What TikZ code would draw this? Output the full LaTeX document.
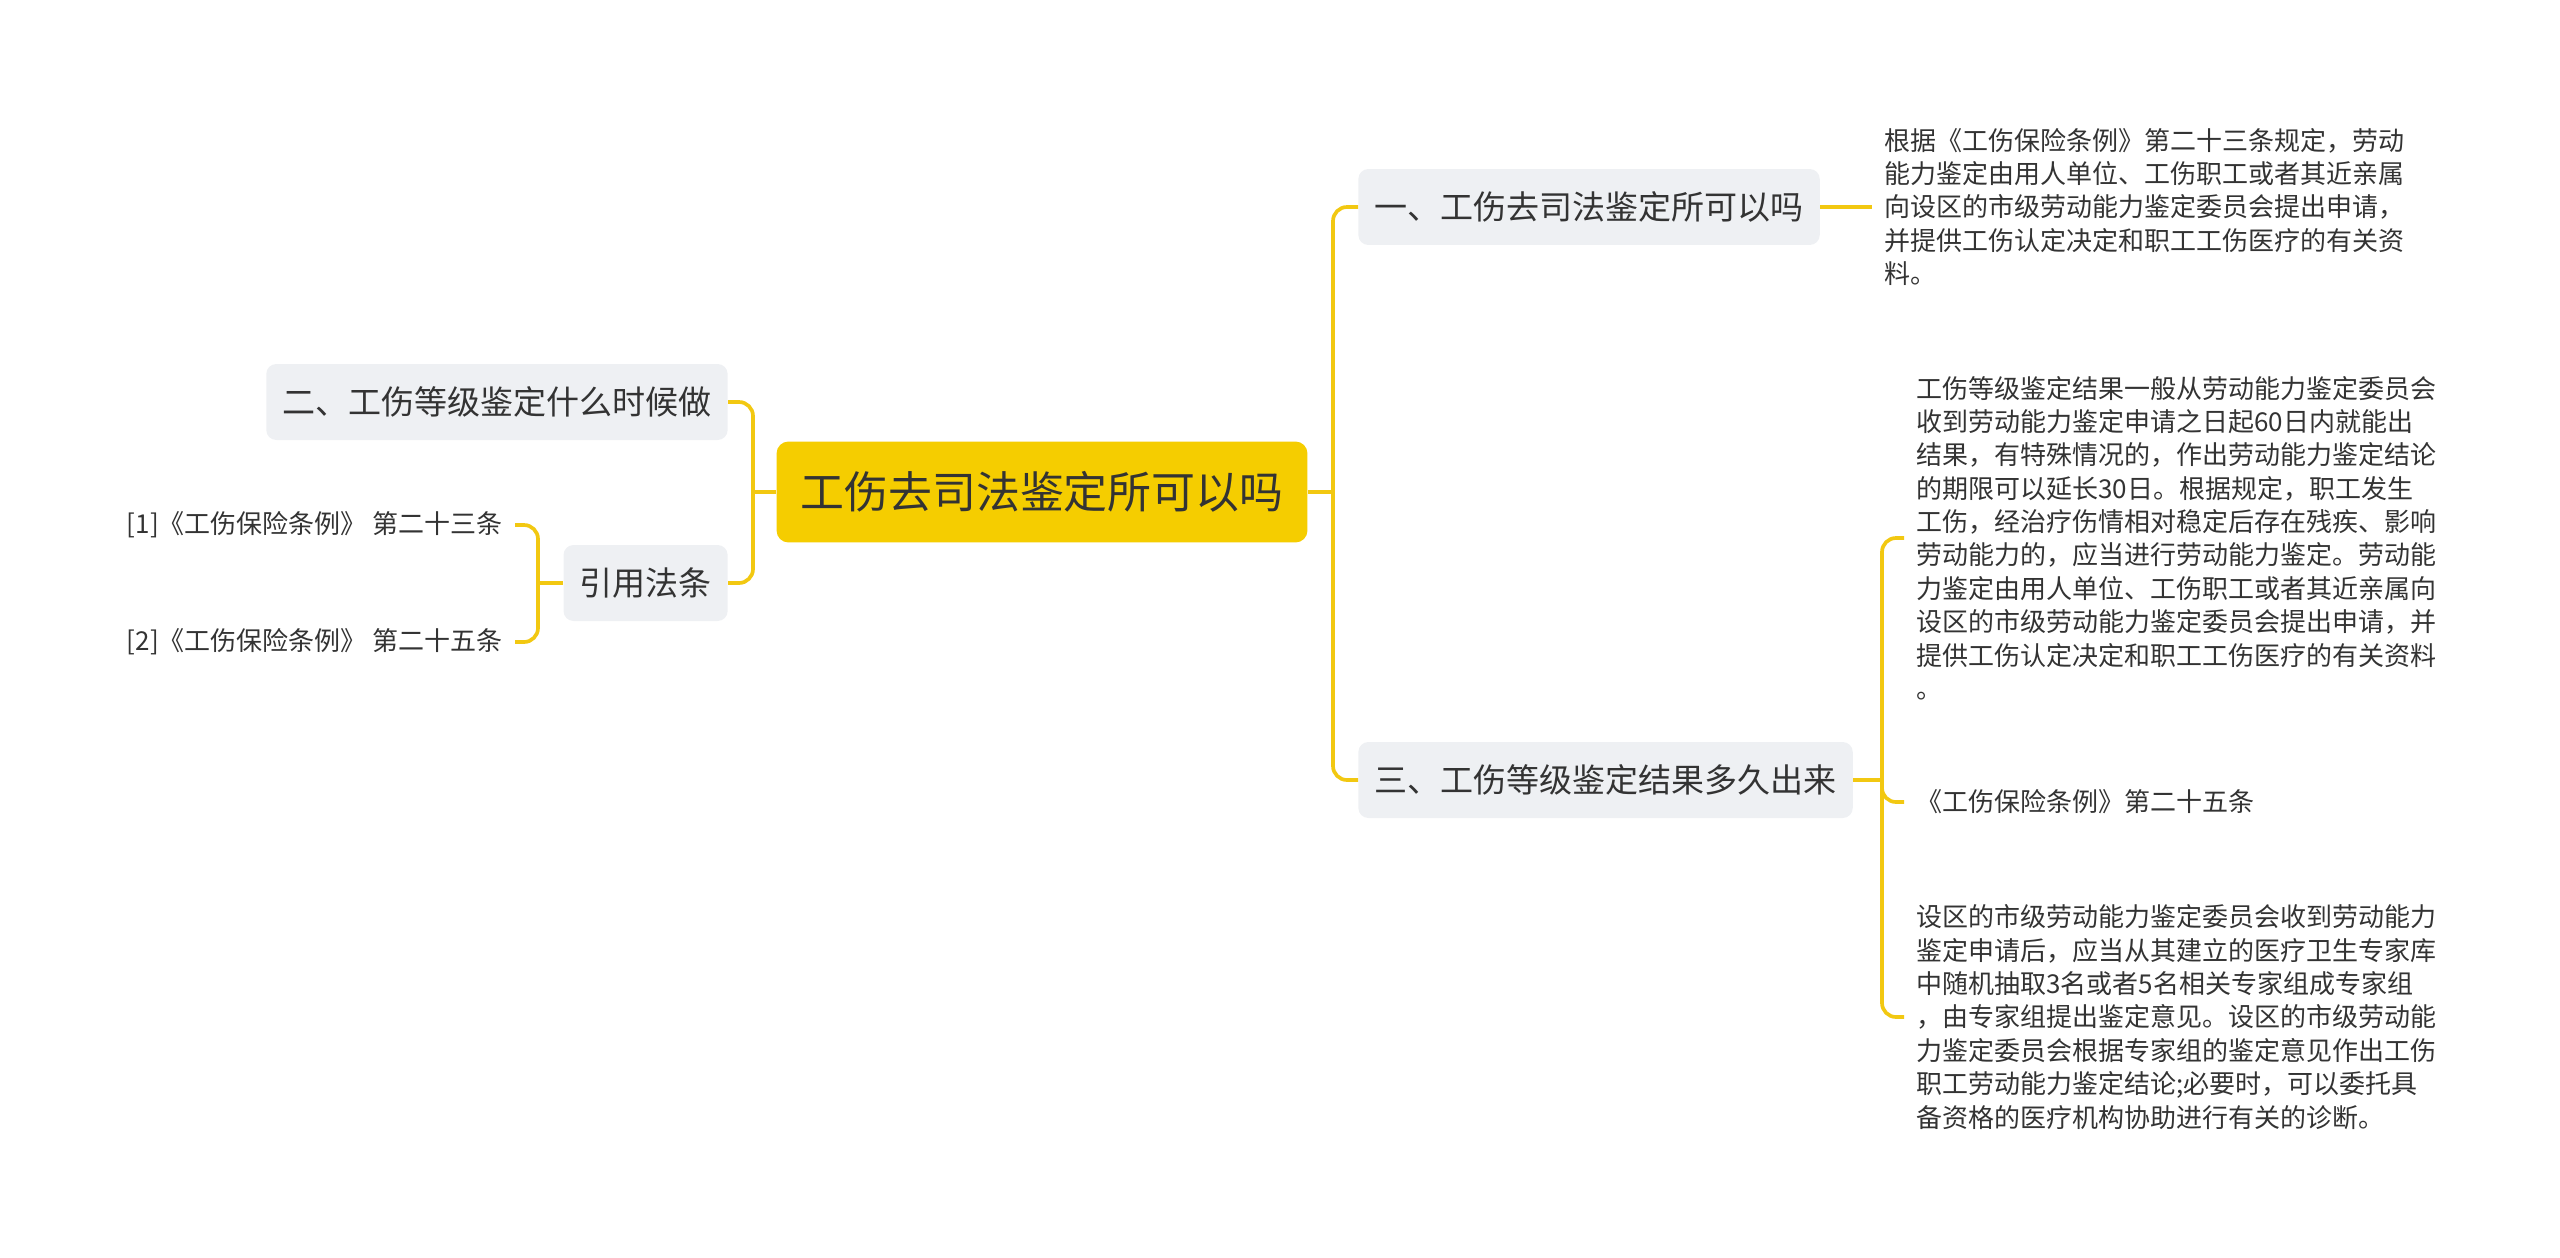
\documentclass[tikz,border=0pt]{standalone}
\usepackage{fontspec}
\setmainfont{Noto Sans CJK SC}
\usetikzlibrary{positioning}
\definecolor{mapyellow}{HTML}{F5CD00}
\definecolor{linkyellow}{HTML}{F2C811}
\definecolor{topicgray}{HTML}{EEF0F3}
\definecolor{inkgray}{HTML}{333333}

\begin{document}
\begin{tikzpicture}[x=0.02cm, y=-0.02cm,
    mainbox/.style={rectangle, rounded corners=0.24cm, fill=mapyellow, text=inkgray, font=\fontsize{25pt}{30pt}\selectfont, minimum width=10.62cm, minimum height=2.02cm},
    topic/.style={rectangle, rounded corners=0.2cm, fill=topicgray, text=inkgray, font=\fontsize{18.8pt}{22pt}\selectfont, inner xsep=0.32cm, minimum height=1.52cm},
    leaf/.style={text=inkgray, font=\fontsize{14.8pt}{19pt}\selectfont, align=left, inner xsep=0.24cm, inner ysep=0pt},
    link/.style={draw=linkyellow, line width=2.1pt, rounded corners=0.28cm}]
            \useasboundingbox (0,0) rectangle (2560,1258);

            % Central topic
            \node[mainbox] (main) at (1042,492) {工伤去司法鉴定所可以吗};
            \coordinate (rfork) at (1333,492);
            \coordinate (lfork) at (753,492);

            % Right branches
            \node[topic, anchor=west] (q1) at (1358,207) {一、工伤去司法鉴定所可以吗};
            \node[topic, anchor=west] (q3) at (1358,780) {三、工伤等级鉴定结果多久出来};
            \coordinate (q3fork) at (1882,780);

            % Left branches
            \node[topic, anchor=east] (q2) at (728,402) {二、工伤等级鉴定什么时候做};
            \node[topic, anchor=east] (cite) at (728,583) {引用法条};
            \coordinate (citefork) at (538,583);

            % Answers
            \node[leaf, right=1.04cm of q1] (ans1) {根据《工伤保险条例》第二十三条规定，劳动\\能力鉴定由用人单位、工伤职工或者其近亲属\\向设区的市级劳动能力鉴定委员会提出申请，\\并提供工伤认定决定和职工工伤医疗的有关资\\料。};
            \node[leaf, anchor=west] (ans3a) at (1904,538) {工伤等级鉴定结果一般从劳动能力鉴定委员会\\收到劳动能力鉴定申请之日起60日内就能出\\结果，有特殊情况的，作出劳动能力鉴定结论\\的期限可以延长30日。根据规定，职工发生\\工伤，经治疗伤情相对稳定后存在残疾、影响\\劳动能力的，应当进行劳动能力鉴定。劳动能\\力鉴定由用人单位、工伤职工或者其近亲属向\\设区的市级劳动能力鉴定委员会提出申请，并\\提供工伤认定决定和职工工伤医疗的有关资料\\。};
            \node[leaf, anchor=west] (ans3b) at (1904,802) {《工伤保险条例》第二十五条};
            \node[leaf, anchor=west] (ans3c) at (1904,1017) {设区的市级劳动能力鉴定委员会收到劳动能力\\鉴定申请后，应当从其建立的医疗卫生专家库\\中随机抽取3名或者5名相关专家组成专家组\\，由专家组提出鉴定意见。设区的市级劳动能\\力鉴定委员会根据专家组的鉴定意见作出工伤\\职工劳动能力鉴定结论;必要时，可以委托具\\备资格的医疗机构协助进行有关的诊断。};

            % Cited articles
            \node[leaf, anchor=east] (law1) at (515,525) {[1]《工伤保险条例》 第二十三条};
            \node[leaf, anchor=east] (law2) at (515,642) {[2]《工伤保险条例》 第二十五条};

            % Links
            \draw[link] (main.east) -- (rfork);
            \draw[link] (rfork) |- (q1.west);
            \draw[link] (rfork) |- (q3.west);
            \draw[link] (main.west) -- (lfork);
            \draw[link] (lfork) |- (q2.east);
            \draw[link] (lfork) |- (cite.east);
            \draw[link] (q1.east) -- (ans1.west);
            \draw[link] (q3.east) -- (q3fork);
            \draw[link] (q3fork) |- (ans3a.west);
            \draw[link] (q3fork) |- (ans3b.west);
            \draw[link] (q3fork) |- (ans3c.west);
            \draw[link] (cite.west) -- (citefork);
            \draw[link] (citefork) |- (law1.east);
            \draw[link] (citefork) |- (law2.east);
        \end{tikzpicture}
\end{document}
